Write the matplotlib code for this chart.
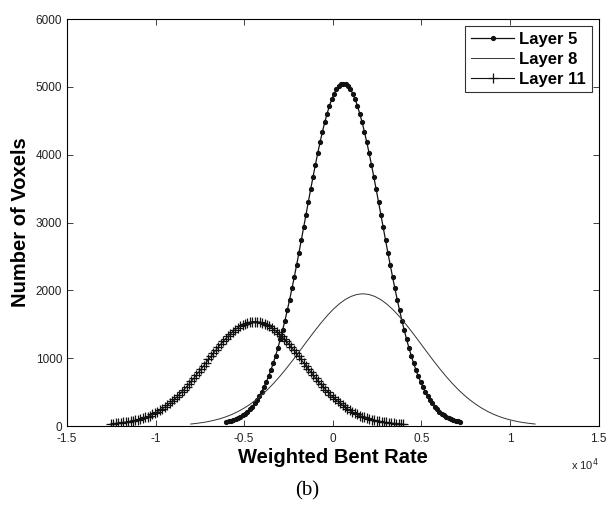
import numpy as np
import matplotlib
matplotlib.use("Agg")
import matplotlib.pyplot as plt
from matplotlib.ticker import FuncFormatter

plt.rcParams["font.family"] = ["Liberation Sans", "DejaVu Sans"]

# Layer 5: histogram counts, bins of 132 from -6000 to 7200
l5_start, l5_step = -6000, 132
l5_half = [5050, 5040, 5012, 4965, 4900, 4818, 4719, 4604, 4476, 4335,
           4183, 4020, 3850, 3672, 3490, 3305, 3117, 2929, 2742, 2557,
           2376, 2199, 2028, 1863, 1706, 1555, 1412, 1278, 1152, 1035,
           926, 826, 733, 649, 572, 502, 439, 383, 332, 287,
           248, 213, 182, 155, 131, 113, 100, 88, 77, 68, 60]
layer5 = l5_half[::-1] + l5_half[1:]

# Layer 8: counts on bins of 335 from -8015
l8_start, l8_step = -8015, 335
l8_half = [1950, 1940, 1911, 1864, 1800, 1721, 1629, 1526, 1416, 1301,
           1183, 1065, 949, 838, 732, 633, 542, 460, 386, 321,
           264, 215, 173, 138, 109, 86, 66, 51, 39, 29]
layer8 = l8_half[::-1] + l8_half[1:]

# Layer 11: counts on bins of 137.5 from -12512.5
l11_start, l11_step = -12512.5, 137.5
l11_half = [1540, 1538, 1532, 1523, 1510, 1493, 1472, 1449, 1422, 1392,
            1359, 1324, 1286, 1247, 1205, 1162, 1118, 1073, 1027, 981,
            934, 887, 841, 795, 750, 705, 662, 619, 578, 538,
            500, 463, 428, 395, 363, 333, 305, 278, 253, 230,
            208, 188, 170, 153, 137, 130, 117, 105, 95, 86,
            78, 70, 63, 57, 52, 47, 43, 39, 35, 32, 29, 26]
layer11 = l11_half[59:0:-1] + l11_half

x5 = l5_start + l5_step * np.arange(len(layer5))
x8 = l8_start + l8_step * np.arange(len(layer8))
x11 = l11_start + l11_step * np.arange(len(layer11))

fig = plt.figure(figsize=(6.14, 5.17), dpi=100)
ax = fig.add_axes([0.109, 0.176, 0.866, 0.787])

ax.plot(x5, layer5, color="#111111", lw=0.9, marker=".", ms=5.5, label="Layer 5")
ax.plot(x8, layer8, color="#333333", lw=0.7, label="Layer 8")
ax.plot(x11, layer11, color="#111111", lw=0.8, marker="+", ms=7, mew=0.9,
        label="Layer 11")

ax.set_xlim(-15000, 15000)
ax.set_ylim(0, 6000)
ax.set_xticks(np.arange(-15000, 15001, 5000))
ax.set_yticks(np.arange(0, 6001, 1000))
ax.xaxis.set_major_formatter(FuncFormatter(lambda v, p: f"{v / 1e4:g}"))
ax.tick_params(direction="in", top=True, right=True, labelsize=8.5,
               length=4, width=0.6, colors="#222222")
ax.tick_params(axis="x", pad=5)
for s in ax.spines.values():
    s.set_linewidth(0.8)

ax.set_xlabel("Weighted Bent Rate", fontsize=14.5, fontweight="bold", labelpad=2)
ax.set_ylabel("Number of Voxels", fontsize=14.5, fontweight="bold", labelpad=4)
ax.text(1.0, -0.075, r"x 10$^4$", transform=ax.transAxes, ha="right",
        va="top", fontsize=8, color="#222222")

leg = ax.legend(loc="upper right", fancybox=False, edgecolor="black",
                prop={"weight": "bold", "size": 12}, handlelength=2.6,
                borderaxespad=0.4, labelspacing=0.3, handletextpad=0.3,
                borderpad=0.35)
leg.get_frame().set_linewidth(0.8)

fig.text(0.5, 0.05, "(b)", ha="center", va="center", fontsize=15,
         family=["Liberation Serif", "DejaVu Serif"])

fig.savefig("out.png", dpi=100)
